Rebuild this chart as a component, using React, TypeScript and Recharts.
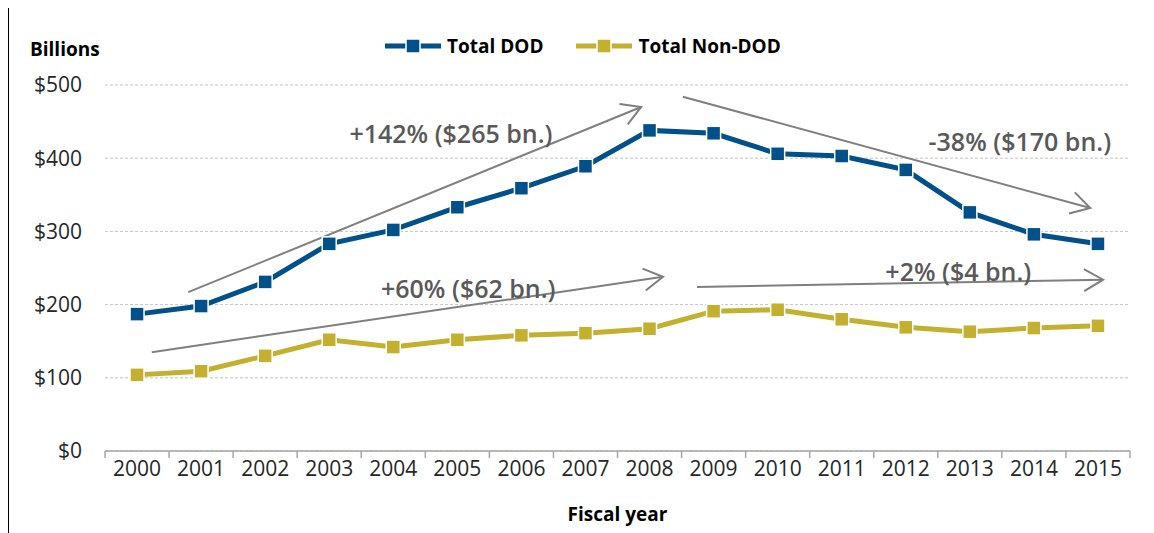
import { LineChart, Line, XAxis, YAxis, CartesianGrid, Legend, ReferenceLine, ReferenceDot } from 'recharts';

const years = ['2000', '2001', '2002', '2003', '2004', '2005', '2006', '2007', '2008', '2009', '2010', '2011', '2012', '2013', '2014', '2015'];
const totalDod = [187, 198, 231, 283, 302, 333, 359, 389, 438, 434, 406, 403, 384, 326, 296, 283];
const totalNonDod = [104, 109, 130, 152, 142, 152, 158, 161, 167, 191, 193, 180, 169, 163, 168, 171];
const yTicks = [0, 100, 200, 300, 400, 500];

// trend arrows, in year-index / $bn units
const trendLabels = ['+142% ($265 bn.)', '-38% ($170 bn.)', '+60% ($62 bn.)', '+2% ($4 bn.)'];
const trendFrom = [[0.8, 217], [8.52, 484], [0.23, 135], [8.74, 224]];
const trendTo = [[7.87, 470], [14.88, 332], [8.21, 238], [15.08, 234]];
const trendLabelAt = [[4.9, 434], [13.78, 423], [5.17, 223], [12.82, 246]];

const DOD_COLOR = '#00508A';
const NON_DOD_COLOR = '#C4B02F';
const FONT = '"Open Sans", sans-serif';

const table = years.map((year, i) => ({ idx: i, year, dod: totalDod[i], nonDod: totalNonDod[i] }));
const xTicks = years.flatMap((_, i) => [i - 0.5, i]).concat(years.length - 0.5);

const squareDot = (color: string) => (props: any) => {
  const { cx, cy, index } = props;
  return <rect key={index} x={cx - 7} y={cy - 7} width={14} height={14} fill={color} stroke="#fff" strokeWidth={1.5} />;
};

const YearTick = (props: any) => {
  const { x, y, payload } = props;
  const v = payload.value;
  if (Number.isInteger(v)) {
    return (
      <text x={x} y={y + 25} textAnchor="middle" fontFamily={FONT} fontSize={21} fill="#262626">
        {years[v]}
      </text>
    );
  }
  return <line x1={x} x2={x} y1={y} y2={y + 7} stroke="#a6a6a6" strokeWidth={1.5} />;
};

const Arrow = (props: any) => {
  const { x1, y1, x2, y2 } = props;
  const a = Math.atan2(y2 - y1, x2 - x1);
  const len = 22;
  const spread = Math.PI / 6;
  const hx1 = x2 - len * Math.cos(a - spread);
  const hy1 = y2 - len * Math.sin(a - spread);
  const hx2 = x2 - len * Math.cos(a + spread);
  const hy2 = y2 - len * Math.sin(a + spread);
  return (
    <g>
      <line x1={x1} y1={y1} x2={x2} y2={y2} stroke="#7f7f7f" strokeWidth={2} />
      <polyline points={`${hx1},${hy1} ${x2},${y2} ${hx2},${hy2}`} fill="none" stroke="#7f7f7f" strokeWidth={2} />
    </g>
  );
};

const trendText = (label: string) => (props: any) => (
  <text x={props.cx} y={props.cy} textAnchor="middle" dominantBaseline="central" fontFamily={FONT} fontSize={25} fontWeight={600} fill="#595959">
    {label}
  </text>
);

const legendItems = [
  { name: 'Total DOD', color: DOD_COLOR },
  { name: 'Total Non-DOD', color: NON_DOD_COLOR },
];

const LegendContent = () => (
  <div style={{ display: 'flex', alignItems: 'center', fontFamily: FONT, fontWeight: 700, fontSize: 19, color: '#000' }}>
    {legendItems.map((item, i) => (
      <div key={item.name} style={{ display: 'flex', alignItems: 'center', marginRight: i === 0 ? 33 : 0 }}>
        <svg width={56} height={16} style={{ marginRight: 6 }}>
          <line x1={0} x2={56} y1={8} y2={8} stroke={item.color} strokeWidth={5} />
          <rect x={21} y={1} width={14} height={14} fill={item.color} stroke="#fff" strokeWidth={1.5} />
        </svg>
        <span>{item.name}</span>
      </div>
    ))}
  </div>
);

export default function App() {
  return (
    <div style={{ marginLeft: -1, marginTop: -2, borderLeft: '2px solid #000', borderTop: '2px solid #000', width: 1145, height: 525 }}>
      <LineChart width={1145} height={525} data={table} margin={{ top: 77, right: 24, left: 0, bottom: 0 }}>
        <CartesianGrid vertical={false} stroke="#c4c4c4" strokeDasharray="3 2" />
        <XAxis
          dataKey="idx"
          type="number"
          domain={[-0.5, years.length - 0.5]}
          ticks={xTicks}
          interval={0}
          tick={<YearTick />}
          tickLine={false}
          tickSize={0}
          tickMargin={0}
          height={82}
          axisLine={{ stroke: '#a6a6a6', strokeWidth: 1.5 }}
          label={{ value: 'Fiscal year', position: 'insideBottom', offset: 12, fontFamily: FONT, fontSize: 19, fontWeight: 700, fill: '#000' }}
        />
        <YAxis
          width={96}
          domain={[0, 500]}
          ticks={yTicks}
          axisLine={false}
          tickLine={false}
          tickSize={0}
          tickMargin={23}
          tickFormatter={(v) => `$${v}`}
          tick={{ fontFamily: FONT, fontSize: 21, fill: '#262626' }}
          label={{
            content: (p: any) => (
              <text x={21} y={p.viewBox.y - 36} dominantBaseline="central" fontFamily={FONT} fontSize={19} fontWeight={700} fill="#000">
                Billions
              </text>
            ),
          }}
        />
        <Legend
          layout="horizontal"
          verticalAlign="middle"
          align="center"
          content={<LegendContent />}
          wrapperStyle={{ top: 25, left: 376, width: 600 }}
        />
        <Line dataKey="dod" name="Total DOD" stroke={DOD_COLOR} strokeWidth={5} dot={squareDot(DOD_COLOR)} isAnimationActive={false} />
        <Line dataKey="nonDod" name="Total Non-DOD" stroke={NON_DOD_COLOR} strokeWidth={5} dot={squareDot(NON_DOD_COLOR)} isAnimationActive={false} />
        {trendLabels.map((label, i) => (
          <ReferenceLine
            key={`a${i}`}
            segment={[
              { x: trendFrom[i][0], y: trendFrom[i][1] },
              { x: trendTo[i][0], y: trendTo[i][1] },
            ]}
            ifOverflow="visible"
            shape={Arrow}
          />
        ))}
        {trendLabels.map((label, i) => (
          <ReferenceDot
            key={`t${i}`}
            x={trendLabelAt[i][0]}
            y={trendLabelAt[i][1]}
            r={1}
            ifOverflow="visible"
            shape={trendText(label)}
          />
        ))}
      </LineChart>
    </div>
  );
}
